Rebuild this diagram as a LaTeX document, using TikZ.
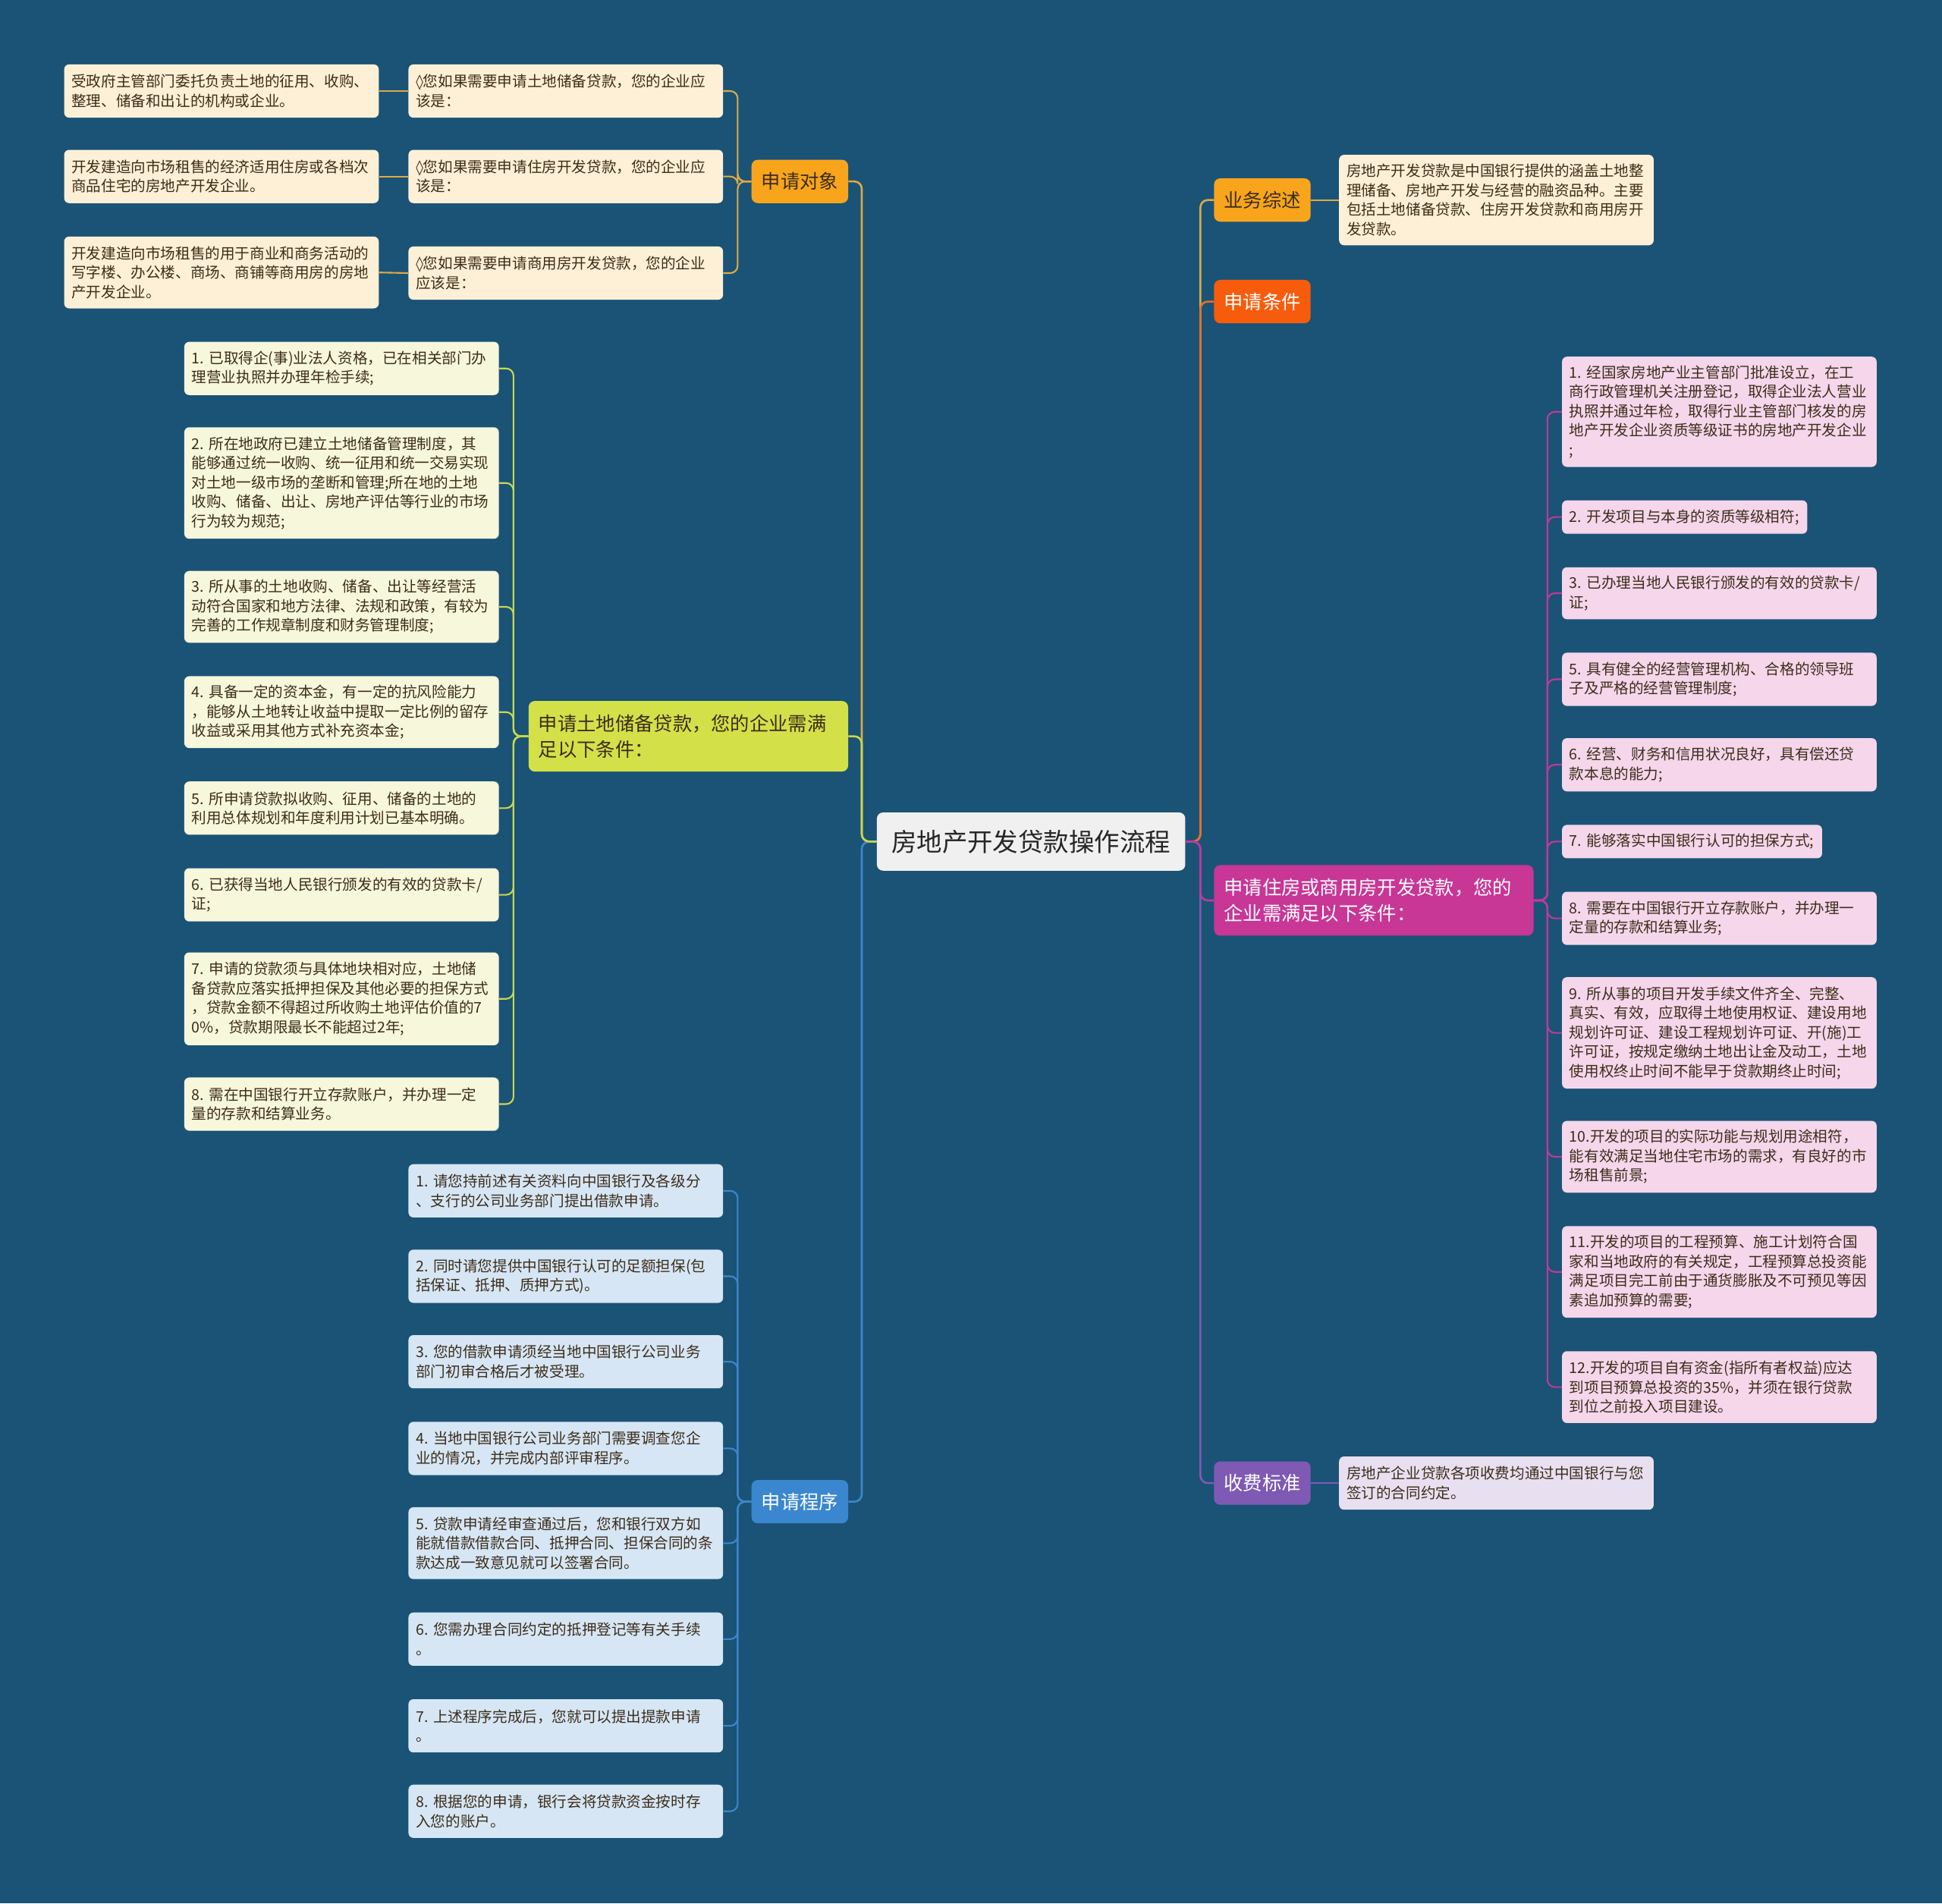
\documentclass[tikz,border=0pt]{standalone}
\usepackage{fontspec}
\setmainfont{Noto Sans CJK SC}
\newfontfamily\dvsans{DejaVu Sans}
\usepackage{tikz}
\usetikzlibrary{positioning}
\usepackage{xcolor}
\definecolor{bgblue}{RGB}{26,83,118}
\definecolor{rootgray}{RGB}{240,240,240}
\definecolor{topicgold}{RGB}{248,165,28}
\definecolor{topicred}{RGB}{246,92,12}
\definecolor{topicmag}{RGB}{200,54,150}
\definecolor{topicpurp}{RGB}{126,90,180}
\definecolor{topicblue}{RGB}{58,135,208}
\definecolor{topiclime}{RGB}{212,224,72}
\definecolor{creamleaf}{RGB}{253,240,214}
\definecolor{limeleaf}{RGB}{247,247,220}
\definecolor{pinkleaf}{RGB}{245,214,235}
\definecolor{lavleaf}{RGB}{232,224,240}
\definecolor{blueleaf}{RGB}{214,230,245}
\definecolor{darktext}{RGB}{60,45,25}
\definecolor{goldline}{RGB}{222,170,70}
\definecolor{orangeline}{RGB}{232,110,40}
\definecolor{limeline}{RGB}{200,215,80}
\definecolor{blueline}{RGB}{60,135,205}
\definecolor{magline}{RGB}{195,55,155}
\definecolor{purpline}{RGB}{125,90,180}

\begin{document}
\begin{tikzpicture}[x=1pt, y=-1pt,
    every node/.style={font=\fontsize{12}{15.6}\selectfont, align=left},
    root/.style={fill=rootgray, rounded corners=5pt, text=black!85, font=\fontsize{20.5}{24}\selectfont, minimum width=249pt, minimum height=47pt, inner sep=0pt},
    topic/.style={rounded corners=5pt, font=\fontsize{15.5}{21}\selectfont, minimum height=35pt, inner xsep=8pt},
    wide/.style={text width=242pt, minimum height=57pt},
    leaf/.style={rounded corners=4pt, text width=242pt, inner xsep=6pt, inner ysep=4pt, text=darktext},
    rleaf/.style={leaf, anchor=west},
    lleaf/.style={leaf, anchor=east},
    mainline/.style={line width=1.6pt, rounded corners=6pt},
    subline/.style={line width=1.3pt, rounded corners=6pt}]
    \fill[bgblue] (0,0) rectangle (1568,1537);
    \useasboundingbox (0,0) rectangle (1568,1537);

    \node[root] (root) at (832.5,679.5) {房地产开发贷款操作流程};

    % right side
    \node[topic, anchor=west, fill=topicgold, text=darktext] (t5) at (980,161.5) {业务综述};
    \node[topic, anchor=west, fill=topicred, text=white] (t6) at (980,243.5) {申请条件};
    \node[topic, wide, anchor=west, fill=topicmag, text=white] (t7) at (980,727) {申请住房或商用房开发贷款，您的\\企业需满足以下条件：};
    \node[topic, anchor=west, fill=topicpurp, text=white] (t8) at (980,1197.5) {收费标准};

    \node[rleaf, fill=creamleaf, minimum height=73pt] (s1) at (1081,161.5) {房地产开发贷款是中国银行提供的涵盖土地整\\理储备、房地产开发与经营的融资品种。主要\\包括土地储备贷款、住房开发贷款和商用房开\\发贷款。};
    \node[rleaf, fill=lavleaf, minimum height=43pt] (s2) at (1081,1197.5) {房地产企业贷款各项收费均通过中国银行与您\\签订的合同约定。};

    \node[rleaf, fill=pinkleaf, minimum height=89pt] (c1) at (1261,332.5) {1.~经国家房地产业主管部门批准设立，在工\\商行政管理机关注册登记，取得企业法人营业\\执照并通过年检，取得行业主管部门核发的房\\地产开发企业资质等级证书的房地产开发企业\\;};
    \node[rleaf, fill=pinkleaf, text width=186pt, minimum height=27pt] (c2) at (1261,417.5) {2.~开发项目与本身的资质等级相符;};
    \node[rleaf, fill=pinkleaf, minimum height=42pt] (c3) at (1261,479) {3.~已办理当地人民银行颁发的有效的贷款卡/\\证;};
    \node[rleaf, fill=pinkleaf, minimum height=43pt] (c5) at (1261,548.5) {5.~具有健全的经营管理机构、合格的领导班\\子及严格的经营管理制度;};
    \node[rleaf, fill=pinkleaf, minimum height=43pt] (c6) at (1261,617.5) {6.~经营、财务和信用状况良好，具有偿还贷\\款本息的能力;};
    \node[rleaf, fill=pinkleaf, text width=198pt, minimum height=27pt] (c7) at (1261,679.5) {7.~能够落实中国银行认可的担保方式;};
    \node[rleaf, fill=pinkleaf, minimum height=43pt] (c8) at (1261,741.5) {8.~需要在中国银行开立存款账户，并办理一\\定量的存款和结算业务;};
    \node[rleaf, fill=pinkleaf, minimum height=90pt] (c9) at (1261,834) {9.~所从事的项目开发手续文件齐全、完整、\\真实、有效，应取得土地使用权证、建设用地\\规划许可证、建设工程规划许可证、开(施)工\\许可证，按规定缴纳土地出让金及动工，土地\\使用权终止时间不能早于贷款期终止时间;};
    \node[rleaf, fill=pinkleaf, minimum height=58pt] (c10) at (1261,934) {10.开发的项目的实际功能与规划用途相符，\\能有效满足当地住宅市场的需求，有良好的市\\场租售前景;};
    \node[rleaf, fill=pinkleaf, minimum height=74pt] (c11) at (1261,1027) {11.开发的项目的工程预算、施工计划符合国\\家和当地政府的有关规定，工程预算总投资能\\满足项目完工前由于通货膨胀及不可预见等因\\素追加预算的需要;};
    \node[rleaf, fill=pinkleaf, minimum height=58pt] (c12) at (1261,1120) {12.开发的项目自有资金(指所有者权益)应达\\到项目预算总投资的35\%，并须在银行贷款\\到位之前投入项目建设。};

    % left side
    \node[topic, anchor=east, fill=topicgold, text=darktext] (t1) at (685,146.5) {申请对象};
    \node[topic, wide, anchor=east, fill=topiclime, text=darktext] (t2) at (685,594.5) {申请土地储备贷款，您的企业需满\\足以下条件：};
    \node[topic, anchor=east, fill=topicblue, text=white] (t3) at (685,1212.5) {申请程序};

    \node[lleaf, fill=creamleaf, minimum height=43pt] (a1) at (584,73.5) {{\dvsans ◊}您如果需要申请土地储备贷款，您的企业应\\该是：};
    \node[lleaf, fill=creamleaf, minimum height=43pt] (a2) at (584,142.5) {{\dvsans ◊}您如果需要申请住房开发贷款，您的企业应\\该是：};
    \node[lleaf, fill=creamleaf, minimum height=43pt] (a3) at (584,220.5) {{\dvsans ◊}您如果需要申请商用房开发贷款，您的企业\\应该是：};
    \node[lleaf, fill=creamleaf, minimum height=43pt] (b1) at (306,73.5) {受政府主管部门委托负责土地的征用、收购、\\整理、储备和出让的机构或企业。};
    \node[lleaf, fill=creamleaf, minimum height=43pt] (b2) at (306,142.5) {开发建造向市场租售的经济适用住房或各档次\\商品住宅的房地产开发企业。};
    \node[lleaf, fill=creamleaf, minimum height=58pt] (b3) at (306,220) {开发建造向市场租售的用于商业和商务活动的\\写字楼、办公楼、商场、商铺等商用房的房地\\产开发企业。};

    \node[lleaf, fill=limeleaf, minimum height=43pt] (d1) at (403,297.5) {1.~已取得企(事)业法人资格，已在相关部门办\\理营业执照并办理年检手续;};
    \node[lleaf, fill=limeleaf, minimum height=90pt] (d2) at (403,390) {2.~所在地政府已建立土地储备管理制度，其\\能够通过统一收购、统一征用和统一交易实现\\对土地一级市场的垄断和管理;所在地的土地\\收购、储备、出让、房地产评估等行业的市场\\行为较为规范;};
    \node[lleaf, fill=limeleaf, minimum height=58pt] (d3) at (403,490) {3.~所从事的土地收购、储备、出让等经营活\\动符合国家和地方法律、法规和政策，有较为\\完善的工作规章制度和财务管理制度;};
    \node[lleaf, fill=limeleaf, minimum height=58pt] (d4) at (403,575) {4.~具备一定的资本金，有一定的抗风险能力\\，能够从土地转让收益中提取一定比例的留存\\收益或采用其他方式补充资本金;};
    \node[lleaf, fill=limeleaf, minimum height=43pt] (d5) at (403,652.5) {5.~所申请贷款拟收购、征用、储备的土地的\\利用总体规划和年度利用计划已基本明确。};
    \node[lleaf, fill=limeleaf, minimum height=43pt] (d6) at (403,722.5) {6.~已获得当地人民银行颁发的有效的贷款卡/\\证;};
    \node[lleaf, fill=limeleaf, minimum height=75pt] (d7) at (403,806.5) {7.~申请的贷款须与具体地块相对应，土地储\\备贷款应落实抵押担保及其他必要的担保方式\\，贷款金额不得超过所收购土地评估价值的7\\0\%，贷款期限最长不能超过2年;};
    \node[lleaf, fill=limeleaf, minimum height=43pt] (d8) at (403,891.5) {8.~需在中国银行开立存款账户，并办理一定\\量的存款和结算业务。};

    \node[lleaf, fill=blueleaf, minimum height=43pt] (e1) at (584,961.5) {1.~请您持前述有关资料向中国银行及各级分\\、支行的公司业务部门提出借款申请。};
    \node[lleaf, fill=blueleaf, minimum height=43pt] (e2) at (584,1030.5) {2.~同时请您提供中国银行认可的足额担保(包\\括保证、抵押、质押方式)。};
    \node[lleaf, fill=blueleaf, minimum height=43pt] (e3) at (584,1099.5) {3.~您的借款申请须经当地中国银行公司业务\\部门初审合格后才被受理。};
    \node[lleaf, fill=blueleaf, minimum height=43pt] (e4) at (584,1169.5) {4.~当地中国银行公司业务部门需要调查您企\\业的情况，并完成内部评审程序。};
    \node[lleaf, fill=blueleaf, minimum height=58pt] (e5) at (584,1246) {5.~贷款申请经审查通过后，您和银行双方如\\能就借款借款合同、抵押合同、担保合同的条\\款达成一致意见就可以签署合同。};
    \node[lleaf, fill=blueleaf, minimum height=43pt] (e6) at (584,1323.5) {6.~您需办理合同约定的抵押登记等有关手续\\。};
    \node[lleaf, fill=blueleaf, minimum height=43pt] (e7) at (584,1393.5) {7.~上述程序完成后，您就可以提出提款申请\\。};
    \node[lleaf, fill=blueleaf, minimum height=43pt] (e8) at (584,1462.5) {8.~根据您的申请，银行会将贷款资金按时存\\入您的账户。};

    % connectors
    \draw[mainline, goldline] (root.east) -- ++(12,0) |- (t5.west);
    \draw[mainline, orangeline] (root.east) -- ++(12,0) |- (t6.west);
    \draw[mainline, purpline] (root.east) -- ++(12,0) |- (t8.west);
    \draw[mainline, magline] (root.east) -- ++(12,0) |- (t7.west);
    \draw[mainline, blueline] (root.west) -- ++(-12,0) |- (t3.east);
    \draw[mainline, goldline] (root.west) -- ++(-12,0) |- (t1.east);
    \draw[mainline, limeline] (root.west) -- ++(-12,0) |- (t2.east);

    \draw[subline, goldline] (t5.east) -- (s1.west);
    \draw[subline, purpline] (t8.east) -- (s2.west);
    \foreach \c in {1,2,3,5,6,7,8,9,10,11,12}
        \draw[subline, magline] (t7.east) -- ++(11,0) |- (c\c.west);
    \foreach \c in {1,2,3} {
        \draw[subline, goldline] (t1.west) -- ++(-11,0) |- (a\c.east);
        \draw[subline, goldline] (a\c.west) -- (b\c.east);
    }
    \foreach \c in {1,...,8} {
        \draw[subline, limeline] (t2.west) -- ++(-12,0) |- (d\c.east);
        \draw[subline, blueline] (t3.west) -- ++(-11,0) |- (e\c.east);
    }
\end{tikzpicture}
\end{document}
